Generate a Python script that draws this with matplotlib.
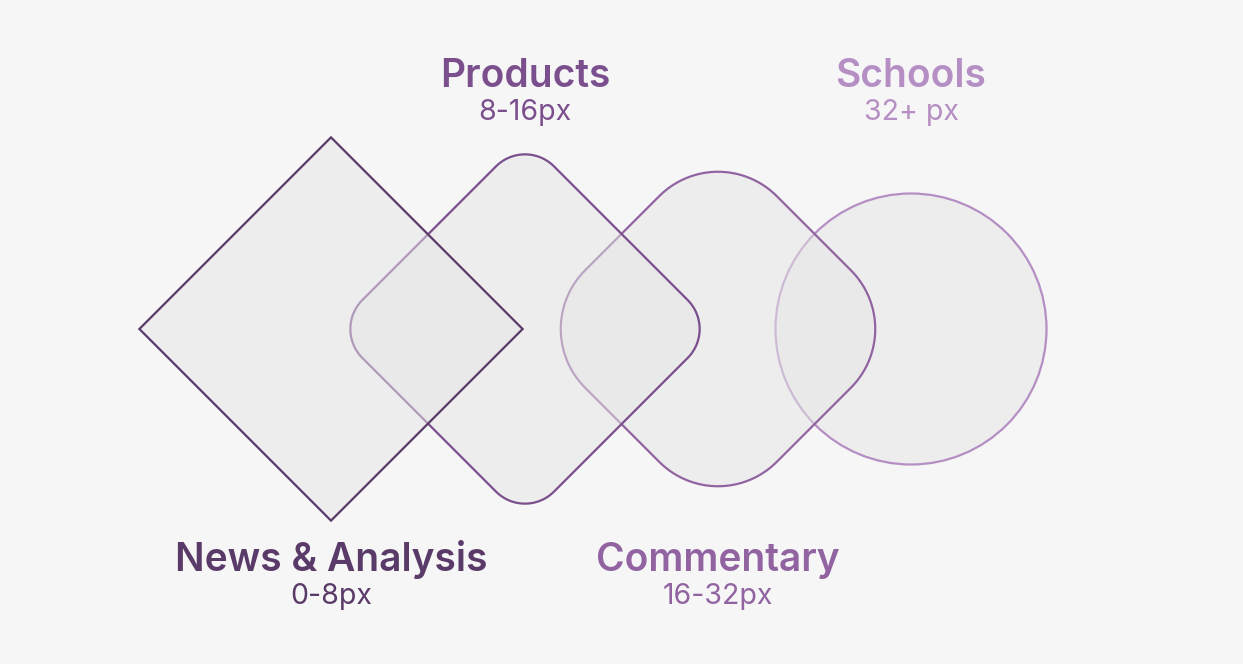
import numpy as np
import matplotlib.pyplot as plt
from matplotlib.patches import PathPatch, Circle
from matplotlib.path import Path
from matplotlib.transforms import Affine2D

# categories, ranges and corner radius (px, on a 271px square turned 45 deg)
names = ["News & Analysis", "Products", "Commentary", "Schools"]
ranges = ["0-8px", "8-16px", "16-32px", "32+ px"]
radii = [0, 41, 83, 135.5]
centers_x = [331, 525, 718, 911]
colors = ["#5a3a68", "#7b4f8e", "#9164a1", "#b58fc3"]
label_top = [False, True, False, True]

side = 271
cy = 329


def rounded_square(s, r):
    # closed outline of a square with true circular corners
    half = s / 2
    pts = []
    corners = [(half, half, 0), (-half, half, 90), (-half, -half, 180), (half, -half, 270)]
    for x, y, start in corners:
        ccx = x - np.sign(x) * r
        ccy = y - np.sign(y) * r
        t = np.radians(np.linspace(start, start + 90, 30))
        pts.extend(zip(ccx + r * np.cos(t), ccy + r * np.sin(t)))
    pts.append(pts[0])
    return Path(pts, closed=True)


fig = plt.figure(figsize=(12.43, 6.64), dpi=100)
fig.patch.set_facecolor("#f6f6f6")
ax = fig.add_axes([0, 0, 1, 1])
ax.set_xlim(0, 1243)
ax.set_ylim(664, 0)
ax.set_aspect("equal")
ax.axis("off")

# draw from the circle backwards so the sharp diamond sits on top
for i in reversed(range(len(names))):
    cx = centers_x[i]
    if radii[i] >= side / 2:
        shape = Circle((cx, cy), side / 2)
    else:
        shape = PathPatch(rounded_square(side, radii[i]),
                          transform=Affine2D().rotate_deg(45).translate(cx, cy) + ax.transData)
    shape.set_facecolor((0.9, 0.9, 0.9, 0.5))
    shape.set_edgecolor(colors[i])
    shape.set_linewidth(1.6)
    shape.set_joinstyle("miter")
    shape.set_zorder(len(names) - i)
    ax.add_patch(shape)

for i, name in enumerate(names):
    y_head = 87 if label_top[i] else 571
    y_sub = 120 if label_top[i] else 604
    ax.text(centers_x[i], y_head, name, ha="center", va="baseline",
            fontsize=28, fontweight="semibold", family="Inter",
            color=colors[i], zorder=10)
    ax.text(centers_x[i], y_sub, ranges[i], ha="center", va="baseline",
            fontsize=20.5, family="Inter", color=colors[i], zorder=10)

fig.savefig("out.png", dpi=100, facecolor=fig.get_facecolor())
